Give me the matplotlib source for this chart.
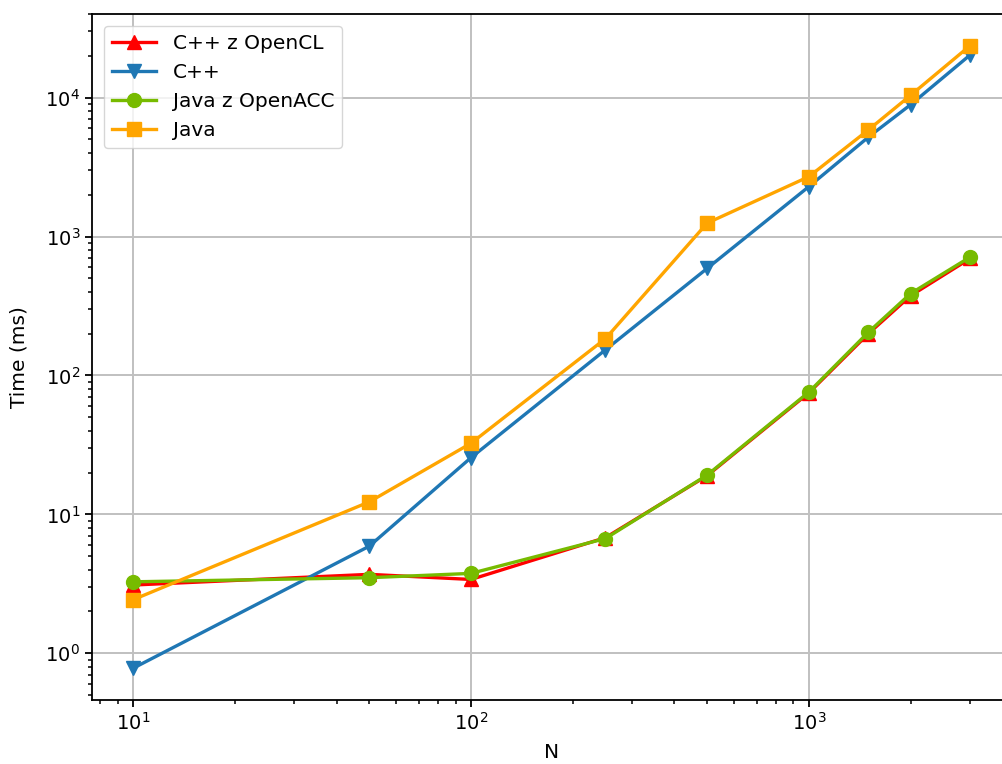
import matplotlib
matplotlib.use("Agg")
import matplotlib.pyplot as plt

N = [10, 50, 100, 250, 500, 1000, 1500, 2000, 3000]
cpp_opencl = [3.1, 3.7, 3.4, 6.8, 19.0, 75, 200, 375, 695]
cpp = [0.78, 5.9, 25.6, 153, 590, 2290, 5200, 8900, 20300]
java_openacc = [3.27, 3.5, 3.76, 6.7, 19.2, 76, 205, 389, 712]
java = [2.43, 12.3, 32.5, 184, 1250, 2700, 5860, 10400, 23700]

labels = ["C++ z OpenCL", "C++", "Java z OpenACC", "Java"]

fig = plt.figure(figsize=(10.03, 7.64), dpi=100)
ax = fig.add_axes([92/1003, 64/764, 920/1003, 686/764])

kw = dict(lw=2.4, ms=10)
ax.plot(N, cpp_opencl, color="red", marker="^", label=labels[0], **kw)
ax.plot(N, cpp, color="#1f77b4", marker="v", label=labels[1], **kw)
ax.plot(N, java_openacc, color="#77bb00", marker="o", label=labels[2], **kw)
ax.plot(N, java, color="orange", marker="s", label=labels[3], **kw)

ax.set_xscale("log")
ax.set_yscale("log")
ax.set_xlim(7.56, 3990)
ax.set_ylim(0.461, 40000)
ax.grid(True, which="major", color="#c0c0c0", lw=1.4)
ax.set_axisbelow(True)
for s in ax.spines.values():
    s.set_linewidth(1.3)
ax.set_xlabel("N", fontsize=14.5, labelpad=7)
ax.set_ylabel("Time (ms)", fontsize=14.5, labelpad=12)
ax.tick_params(which="major", labelsize=14, length=5, width=1.3)
ax.tick_params(which="minor", length=3, width=1.1)
ax.legend(loc="upper left", fontsize=14.5, borderaxespad=0.6, handlelength=2.2)

fig.savefig("out.png", dpi=100)
